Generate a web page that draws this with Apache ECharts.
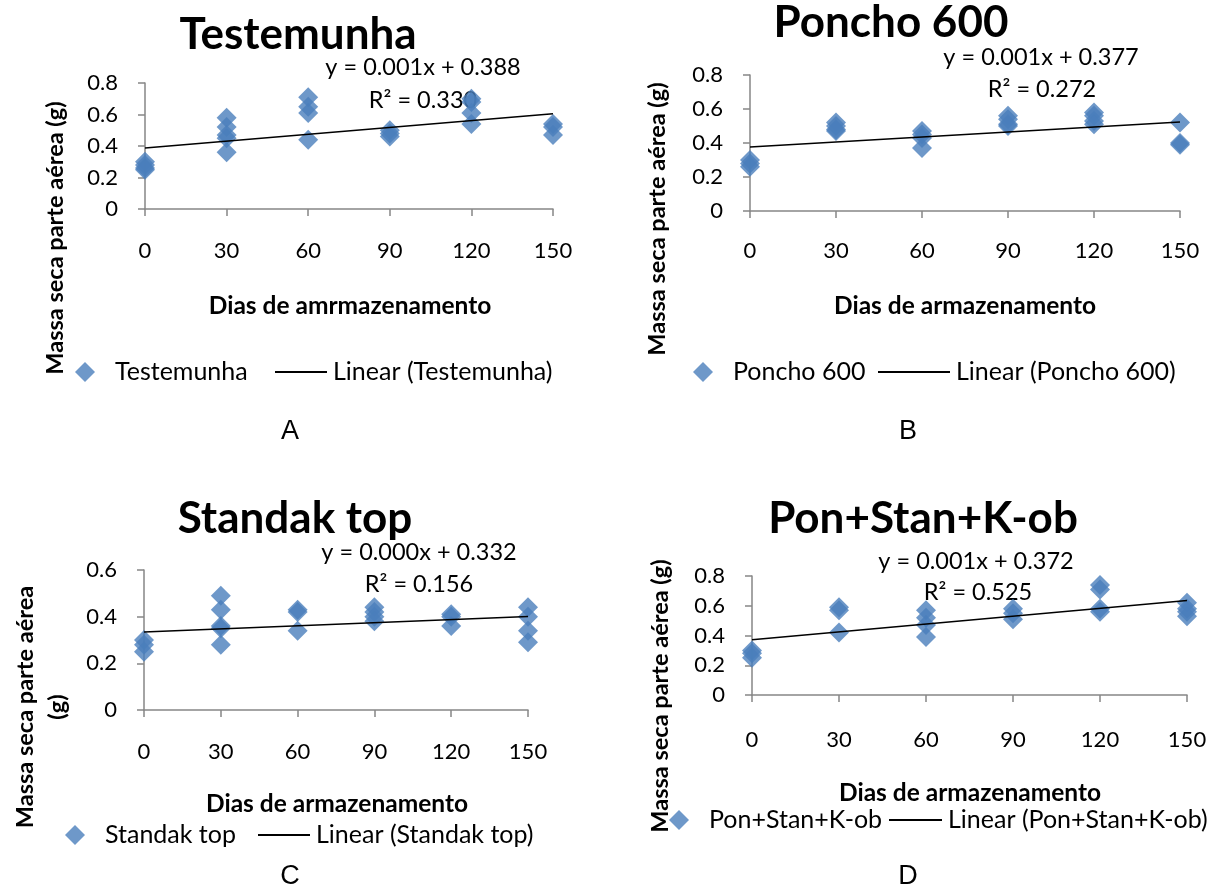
<!DOCTYPE html>
<html lang="pt">
<head>
    <meta charset="UTF-8">
    <title>Massa seca parte aérea</title>
    <script src="https://cdn.jsdelivr.net/npm/echarts@6/dist/echarts.min.js"></script>
    <style>
        html, body { margin: 0; padding: 0; background: #fff; }
        #main { width: 1221px; height: 888px; }
    </style>
</head>
<body>
<div id="main"></div>
<script>
    // dias de armazenamento (eixo x)
    var dias = [0, 30, 60, 90, 120, 150];

    // pontos: [dias, massa seca (g)]
    var testemunha = [
        [0, 0.30], [0, 0.28], [0, 0.26], [0, 0.25],
        [30, 0.58], [30, 0.52], [30, 0.47], [30, 0.45], [30, 0.36],
        [60, 0.71], [60, 0.65], [60, 0.61], [60, 0.44],
        [90, 0.50], [90, 0.48], [90, 0.46],
        [120, 0.70], [120, 0.68], [120, 0.61], [120, 0.54],
        [150, 0.54], [150, 0.52], [150, 0.47]
    ];
    var poncho = [
        [0, 0.30], [0, 0.28], [0, 0.26],
        [30, 0.52], [30, 0.50], [30, 0.48], [30, 0.47],
        [60, 0.47], [60, 0.45], [60, 0.43], [60, 0.37],
        [90, 0.56], [90, 0.54], [90, 0.51], [90, 0.50],
        [120, 0.58], [120, 0.56], [120, 0.53], [120, 0.51],
        [150, 0.52], [150, 0.40], [150, 0.39]
    ];
    var standak = [
        [0, 0.30], [0, 0.28], [0, 0.25],
        [30, 0.49], [30, 0.43], [30, 0.36], [30, 0.35], [30, 0.28],
        [60, 0.43], [60, 0.42], [60, 0.34],
        [90, 0.44], [90, 0.42], [90, 0.40], [90, 0.38],
        [120, 0.41], [120, 0.40], [120, 0.36],
        [150, 0.44], [150, 0.40], [150, 0.34], [150, 0.29]
    ];
    var ponStan = [
        [0, 0.30], [0, 0.28], [0, 0.25],
        [30, 0.59], [30, 0.57], [30, 0.42],
        [60, 0.57], [60, 0.52], [60, 0.47], [60, 0.39],
        [90, 0.58], [90, 0.55], [90, 0.51],
        [120, 0.74], [120, 0.71], [120, 0.58], [120, 0.56],
        [150, 0.62], [150, 0.58], [150, 0.56], [150, 0.53]
    ];

    // linhas de tendência (extremos)
    var linTestemunha = [[0, 0.388], [150, 0.605]];
    var linPoncho = [[0, 0.377], [150, 0.524]];
    var linStandak = [[0, 0.334], [150, 0.401]];
    var linPonStan = [[0, 0.372], [150, 0.635]];

    var nomes = ['Testemunha', 'Poncho 600', 'Standak top', 'Pon+Stan+K-ob'];
    var equacoes = ['y = 0.001x + 0.388', 'y = 0.001x + 0.377', 'y = 0.000x + 0.332', 'y = 0.001x + 0.372'];
    var r2 = ['R² = 0.330', 'R² = 0.272', 'R² = 0.156', 'R² = 0.525'];
    var yMax = [0.8, 0.8, 0.6, 0.8];

    var pontos = [testemunha, poncho, standak, ponStan];
    var linhas = [linTestemunha, linPoncho, linStandak, linPonStan];

    var azul = '#4A7EBB';
    var cinza = '#868686';
    var fonte = 'Lato';

    // layout dos quatro gráficos
    var grids = [
        {left: 145, top: 83, width: 408, height: 126},
        {left: 750, top: 75, width: 430, height: 136},
        {left: 144, top: 570, width: 384, height: 140},
        {left: 752, top: 576, width: 435, height: 119}
    ];
    var xMargin = [31, 29, 31, 34];

    var xAxes = [], yAxes = [], series = [], legends = [];
    for (var i = 0; i < 4; i++) {
        xAxes.push({
            type: 'value', gridIndex: i, min: dias[0], max: dias[dias.length - 1], interval: 30,
            axisLine: {lineStyle: {color: cinza, width: 1.5}},
            axisTick: {length: 7, lineStyle: {color: cinza, width: 1.5}},
            splitLine: {show: false},
            axisLabel: {margin: xMargin[i], fontSize: 22, color: '#000', fontFamily: fonte}
        });
        yAxes.push({
            type: 'value', gridIndex: i, min: 0, max: yMax[i], interval: 0.2,
            axisLine: {show: true, lineStyle: {color: cinza, width: 1.5}},
            axisTick: {show: true, length: 7, lineStyle: {color: cinza, width: 1.5}},
            splitLine: {show: false},
            axisLabel: {
                margin: 27, fontSize: 22, color: '#000', fontFamily: fonte,
                formatter: function (v) { return v === 0 ? '0' : v.toFixed(1); }
            }
        });
        series.push({
            name: nomes[i], type: 'scatter', xAxisIndex: i, yAxisIndex: i,
            symbol: 'diamond', symbolSize: 20,
            itemStyle: {color: azul},
            data: pontos[i]
        });
        series.push({
            name: 'Linear (' + nomes[i] + ')', type: 'line', xAxisIndex: i, yAxisIndex: i,
            symbol: 'none', silent: true,
            lineStyle: {color: '#000', width: 1.5},
            itemStyle: {color: '#000'},
            data: linhas[i],
            z: 3
        });
    }

    // legendas: losango e linha separados para posicionar como no original
    var legTexto = {fontSize: 25, color: '#000', fontFamily: fonte, lineHeight: 26};
    var legLosango = [[75, 359], [693, 359], [65, 822], [669, 807]];
    var legLinha = [[275, 52, 359], [878, 72, 359], [258, 52, 822], [889, 53, 807]];
    for (var j = 0; j < 4; j++) {
        legends.push({
            left: legLosango[j][0], top: legLosango[j][1], padding: 0,
            itemWidth: 20, itemHeight: 20, selectedMode: false,
            data: [{name: nomes[j], icon: 'diamond'}],
            textStyle: Object.assign({padding: [0, 0, 0, 15]}, legTexto)
        });
        legends.push({
            left: legLinha[j][0], top: legLinha[j][2], padding: 0,
            itemWidth: legLinha[j][1], itemHeight: 2, selectedMode: false,
            data: [{name: 'Linear (' + nomes[j] + ')', icon: 'rect', itemStyle: {color: '#000'}}],
            textStyle: Object.assign({padding: [0, 0, 0, 1]}, legTexto)
        });
    }

    function texto(x, y, t, size, bold, opts) {
        opts = opts || {};
        return {
            type: 'text', x: x, y: y, rotation: opts.rot || 0,
            style: {
                text: t, fill: '#000',
                fontSize: size, fontWeight: bold ? 'bold' : 'normal',
                fontFamily: opts.family || fonte,
                textAlign: 'center', textVerticalAlign: 'middle'
            }
        };
    }

    var yNome = 'Massa seca parte aérea (g)';
    var graphics = [
        // títulos
        texto(298, 35, nomes[0], 44, true),
        texto(891, 23, nomes[1], 44, true),
        texto(295, 519, nomes[2], 44, true),
        texto(923, 519, nomes[3], 44, true),
        // equações
        texto(423, 67, equacoes[0], 23.5, false),
        texto(423, 100, r2[0], 23.5, false),
        texto(1041, 57, equacoes[1], 23.5, false),
        texto(1042, 89, r2[1], 23.5, false),
        texto(419, 552, equacoes[2], 23.5, false),
        texto(419, 584, r2[2], 23.5, false),
        texto(976, 561, equacoes[3], 23.5, false),
        texto(978, 592, r2[3], 23.5, false),
        // nomes do eixo x
        texto(350, 306, 'Dias de amrmazenamento', 24.5, true),
        texto(965, 306, 'Dias de armazenamento', 24.5, true),
        texto(337, 804, 'Dias de armazenamento', 24.5, true),
        texto(970, 793, 'Dias de armazenamento', 24.5, true),
        // nomes do eixo y
        texto(55, 238, yNome, 23.5, true, {rot: Math.PI / 2}),
        texto(657, 219, yNome, 23.5, true, {rot: Math.PI / 2}),
        texto(25, 707, 'Massa seca parte aérea', 23.5, true, {rot: Math.PI / 2}),
        texto(57, 707, '(g)', 23.5, true, {rot: Math.PI / 2}),
        texto(660, 696, yNome, 23.5, true, {rot: Math.PI / 2}),
        // letras
        texto(290, 432, 'A', 27, false, {family: 'Liberation Sans'}),
        texto(908, 432, 'B', 27, false, {family: 'Liberation Sans'}),
        texto(290, 877, 'C', 27, false, {family: 'Liberation Sans'}),
        texto(908, 877, 'D', 27, false, {family: 'Liberation Sans'})
    ];

    var myChart = echarts.init(document.getElementById('main'));
    var option = {
        backgroundColor: '#fff',
        animation: false,
        grid: grids,
        xAxis: xAxes,
        yAxis: yAxes,
        legend: legends,
        series: series,
        graphic: graphics
    };
    myChart.setOption(option);
</script>
</body>
</html>
